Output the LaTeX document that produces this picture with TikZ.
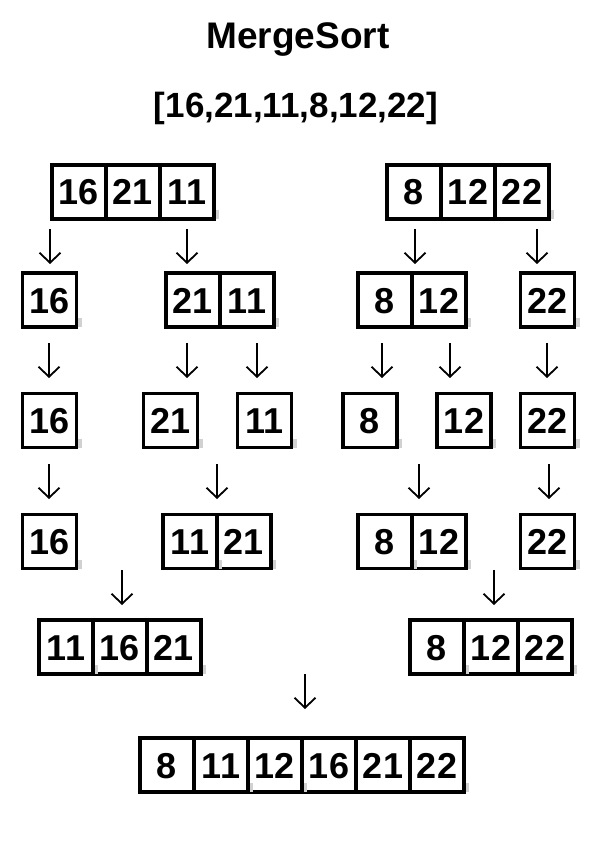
\documentclass[tikz,border=0pt]{standalone}
\usepackage{fontspec}
\setmainfont{Liberation Sans}
\usetikzlibrary{arrows.meta,positioning}

\tikzset{
  cell/.style={draw, line width=3.4pt, outer sep=0pt, inner sep=0pt,
    minimum width=54pt, minimum height=54pt, text height=26pt, text depth=0pt,
    font=\fontsize{36}{36}\selectfont\bfseries},
  down/.style={line width=1.8pt,
    -{Straight Barb[length=10pt,width=21pt,line width=1.8pt]}},
  nick/.style={fill=black!18},
}
\newcommand{\nick}[1]{\fill[nick] ([xshift=1.7pt]#1) rectangle ++(3.5,-9);}

\begin{document}
\begin{tikzpicture}[x=1pt,y=-1pt,node distance=0pt]
\useasboundingbox (0,0) rectangle (595,842);

% heading
\node[font=\fontsize{37}{37}\selectfont\bfseries] (title) at (298,40) {MergeSort};
\node[font=\fontsize{35}{35}\selectfont\bfseries] (input) at (296,108) {[16,21,11,8,12,22]};

% split 1
\node[cell] (a1) at (79,192) {16};
\node[cell] (a2) [right=of a1] {21};
\node[cell] (a3) [right=of a2] {11};
\node[cell] (b1) at (414,192) {8};
\node[cell] (b2) [right=of b1] {12};
\node[cell] (b3) [right=of b2] {22};

% split 2
\node[cell] (c1) at (49.5,300) {16};
\node[cell] (d1) at (193,300) {21};
\node[cell] (d2) [right=of d1] {11};
\node[cell] (e1) at (385,300) {8};
\node[cell] (e2) [right=of e1] {12};
\node[cell] (f1) at (547.5,300) {22};

% singles
\node[cell] (g1) at (49.5,420.5) {16};
\node[cell] (g2) at (170.5,420.5) {21};
\node[cell] (g3) at (264.5,420.5) {11};
\node[cell] (g4) at (370,420.5) {8};
\node[cell] (g5) at (464,420.5) {12};
\node[cell] (g6) at (547.5,420.5) {22};

% merge 1
\node[cell] (h1) at (49.5,541.5) {16};
\node[cell] (i1) at (190,541.5) {11};
\node[cell] (i2) [right=of i1] {21};
\node[cell] (j1) at (385,541.5) {8};
\node[cell] (j2) [right=of j1] {12};
\node[cell] (k1) at (547.5,541.5) {22};

% merge 2
\node[cell] (l1) at (66,647) {11};
\node[cell] (l2) [right=of l1] {16};
\node[cell] (l3) [right=of l2] {21};
\node[cell] (m1) at (437,647) {8};
\node[cell] (m2) [right=of m1] {12};
\node[cell] (m3) [right=of m2] {22};

% result
\node[cell] (n1) at (167,765) {8};
\node[cell] (n2) [right=of n1] {11};
\node[cell] (n3) [right=of n2] {12};
\node[cell] (n4) [right=of n3] {16};
\node[cell] (n5) [right=of n4] {21};
\node[cell] (n6) [right=of n5] {22};

% little grey marks at the corners
\foreach \c in {a3,b3,c1,d2,e2,f1,g1,g2,g3,g4,g5,g6,h1,i1,i2,j1,j2,k1,l1,l3,m1,m3,n2,n3,n6}
  {\nick{\c.south east}}

% arrows
\foreach \n/\x/\y in {1/50/229,2/187/229,3/415/229,4/537/229,
    5/49/343,6/187/343,7/257/343,8/382/343,9/450/343,10/547/343,
    11/49/464,12/217/464,13/419/464,14/549/464,
    15/122/570,16/494/570,17/305/674} {
  \coordinate (s\n) at (\x,\y);
  \coordinate (t\n) at (\x,\y+35);
  \path[down] (s\n) edge (t\n);
}
\end{tikzpicture}
\end{document}
